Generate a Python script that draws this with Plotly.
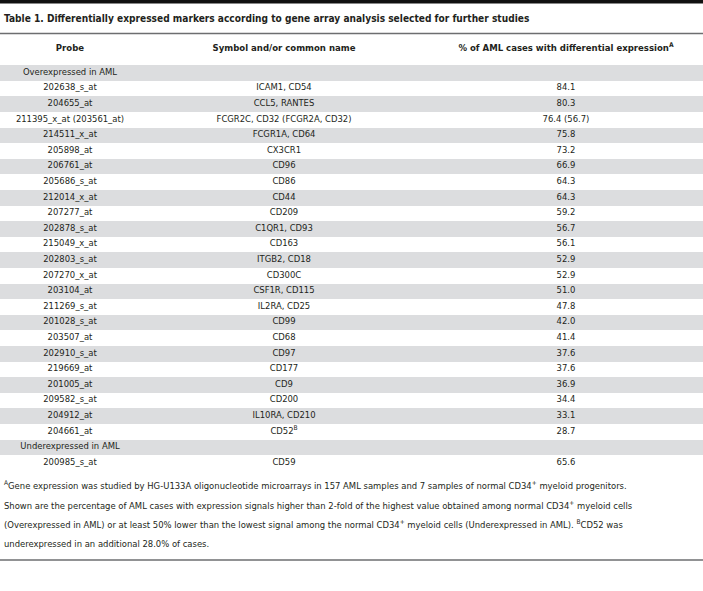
import plotly.graph_objects as go

# ---- data ----
title_text = "Table 1. Differentially expressed markers according to gene array analysis selected for further studies"
header_labels = ["Probe", "Symbol and/or common name", "% of AML cases with differential expression<sup>A</sup>"]

group_over = "Overexpressed in AML"
probes_over = ["202638_s_at", "204655_at", "211395_x_at (203561_at)", "214511_x_at", "205898_at",
               "206761_at", "205686_s_at", "212014_x_at", "207277_at", "202878_s_at", "215049_x_at",
               "202803_s_at", "207270_x_at", "203104_at", "211269_s_at", "201028_s_at", "203507_at",
               "202910_s_at", "219669_at", "201005_at", "209582_s_at", "204912_at", "204661_at"]
symbols_over = ["ICAM1, CD54", "CCL5, RANTES", "FCGR2C, CD32 (FCGR2A, CD32)", "FCGR1A, CD64", "CX3CR1",
                "CD96", "CD86", "CD44", "CD209", "C1QR1, CD93", "CD163",
                "ITGB2, CD18", "CD300C", "CSF1R, CD115", "IL2RA, CD25", "CD99", "CD68",
                "CD97", "CD177", "CD9", "CD200", "IL10RA, CD210", "CD52<sup>B</sup>"]
pct_over = ["84.1", "80.3", "76.4 (56.7)", "75.8", "73.2",
            "66.9", "64.3", "64.3", "59.2", "56.7", "56.1",
            "52.9", "52.9", "51.0", "47.8", "42.0", "41.4",
            "37.6", "37.6", "36.9", "34.4", "33.1", "28.7"]

group_under = "Underexpressed in AML"
probes_under = ["200985_s_at"]
symbols_under = ["CD59"]
pct_under = ["65.6"]

footnote_lines = [
    "<sup>A</sup>Gene expression was studied by HG-U133A oligonucleotide microarrays in 157 AML samples and 7 samples of normal CD34<sup>+</sup> myeloid progenitors.",
    "Shown are the percentage of AML cases with expression signals higher than 2-fold of the highest value obtained among normal CD34<sup>+</sup> myeloid cells",
    "(Overexpressed in AML) or at least 50% lower than the lowest signal among the normal CD34<sup>+</sup> myeloid cells (Underexpressed in AML). <sup>B</sup>CD52 was",
    "underexpressed in an additional 28.0% of cases.",
]

# ---- build table rows ----
col_probe = [group_over] + probes_over + [group_under] + probes_under
col_symbol = [""] + symbols_over + [""] + symbols_under
col_pct = [""] + pct_over + [""] + pct_under
n_rows = len(col_probe)
row_idx = list(range(n_rows))

# ---- layout / style (pixels) ----
W, H = 703, 591
FONT = "DejaVu Sans Condensed, DejaVu Sans, sans-serif"
TXT = "#231f20"
GRAY = "#dcdddf"
RULE = "#6d6e70"
col_centers = [70, 284, 566]
row0_center = 72.5
row_pitch = 15.6
header_center = 48.5
title_center = 18.5
title_rule = 33.5
foot_first = 485
foot_pitch = 19.5
bottom_rule = 560

# y axis in row units: row i sits at row0_center + i*row_pitch (pixels from top)
top_px = title_rule + 1
bot_px = row0_center + (n_rows - 0.5) * row_pitch
y_top = (top_px - row0_center) / row_pitch
header_row = (header_center - row0_center) / row_pitch

fig = go.Figure()

gray_rows = [i for i in row_idx if i % 2 == 0]
fig.add_trace(go.Bar(
    y=gray_rows, x=[W] * len(gray_rows), base=0, orientation="h", width=1,
    marker=dict(color=GRAY, line_width=0), hoverinfo="skip", showlegend=False))

for c, col in enumerate([col_probe, col_symbol, col_pct]):
    fig.add_trace(go.Scatter(
        x=[col_centers[c]] * n_rows, y=row_idx, text=col, mode="text",
        textposition="middle center", cliponaxis=False,
        textfont=dict(family=FONT, size=9.4, color=TXT), hoverinfo="skip", showlegend=False))

fig.add_trace(go.Scatter(
    x=col_centers, y=[header_row] * 3, text=["<b>%s</b>" % h for h in header_labels], mode="text",
    textposition="middle center", cliponaxis=False,
    textfont=dict(family=FONT, size=9.5, color=TXT), hoverinfo="skip", showlegend=False))

def py(px):
    return 1 - px / H

shapes = [
    dict(type="rect", xref="paper", yref="paper", x0=0, x1=1, y0=py(3.5), y1=py(0), fillcolor="#111", line_width=0),
    dict(type="line", xref="paper", yref="paper", x0=0, x1=1, y0=py(title_rule), y1=py(title_rule), line=dict(color=RULE, width=1.5)),
    dict(type="line", xref="paper", yref="paper", x0=0, x1=1, y0=py(bottom_rule), y1=py(bottom_rule), line=dict(color=RULE, width=1.5)),
]

annotations = [dict(text="<b>%s</b>" % title_text, x=2 / W, y=py(title_center), xref="paper", yref="paper",
                    xanchor="left", yanchor="middle", showarrow=False,
                    font=dict(family=FONT, size=10.1, color=TXT))]
for i, line in enumerate(footnote_lines):
    annotations.append(dict(text=line, x=2 / W, y=py(foot_first + i * foot_pitch), xref="paper", yref="paper",
                            xanchor="left", yanchor="middle", showarrow=False,
                            font=dict(family=FONT, size=9.4, color=TXT)))

fig.update_layout(
    width=W, height=H, margin=dict(l=0, r=0, t=0, b=0),
    paper_bgcolor="white", plot_bgcolor="rgba(0,0,0,0)", bargap=0,
    xaxis=dict(range=[0, W], visible=False, fixedrange=True, domain=[0, 1]),
    yaxis=dict(range=[n_rows - 0.5, y_top], visible=False, fixedrange=True,
               domain=[py(bot_px), py(top_px)]),
    shapes=shapes, annotations=annotations)

fig.write_html("out.html", config={"displayModeBar": False},
               post_script="document.body.style.margin='0';")
